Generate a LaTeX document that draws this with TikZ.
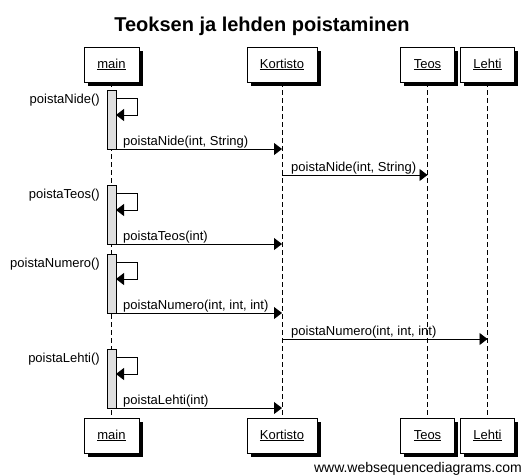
\documentclass[tikz,border=0pt]{standalone}
\usepackage{fontspec}
\setmainfont{Liberation Sans}
\usetikzlibrary{arrows.meta,shadows}
\begin{document}
\begin{tikzpicture}[x=1pt,y=-1pt,
  actor/.style={draw, fill=white, line width=0.8pt, minimum height=35pt, inner sep=0pt, text height=10pt, text depth=3pt, font=\fontsize{13}{15}\selectfont,
    drop shadow={shadow xshift=3.5pt, shadow yshift=-3.5pt, fill=black, opacity=1}},
  life/.style={draw, line width=0.8pt, dash pattern=on 5pt off 3pt},
  bar/.style={draw, fill=gray!25, line width=0.8pt},
  msg/.style={draw, line width=0.9pt, -{Triangle[length=8pt,width=12pt]}},
  lbl/.style={font=\fontsize{13}{15}\selectfont, inner sep=0pt},
  ul/.style={},
]
\useasboundingbox (0,0) rectangle (526,475);
\node[font=\bfseries\fontsize{20}{24}\selectfont, anchor=base] (title) at (262,31) {Teoksen ja lehden poistaminen};

% top actors
\node[actor, minimum width=55pt] (mainT) at (111.5,64.5) {\underline{main}};
\node[actor, minimum width=70pt] (korT) at (282,64.5) {\underline{Kortisto}};
\node[actor, minimum width=54pt] (teosT) at (427.5,64.5) {\underline{Teos}};
\node[actor, minimum width=54pt] (lehtiT) at (487.5,64.5) {\underline{Lehti}};
% bottom actors
\node[actor, minimum width=55pt] (mainB) at (111.5,435.5) {\underline{main}};
\node[actor, minimum width=70pt] (korB) at (282,435.5) {\underline{Kortisto}};
\node[actor, minimum width=54pt] (teosB) at (427.5,435.5) {\underline{Teos}};
\node[actor, minimum width=54pt] (lehtiB) at (487.5,435.5) {\underline{Lehti}};

% lifelines
\draw[life] (mainT.south) -- (mainB.north);
\draw[life] (korT.south) -- (korB.north);
\draw[life] (teosT.south) -- (teosB.north);
\draw[life] (lehtiT.south) -- (lehtiB.north);

% activation bars
\foreach \n/\t/\b in {1/90/149, 2/185/244, 3/254/313, 4/349/408}{
  \node[bar, minimum width=9pt, minimum height={\b-\t}, inner sep=0pt, anchor=north] (bar\n) at (111.5,\t) {};
}

% self calls
\foreach \n/\t/\txt in {1/90/poistaNide(), 2/185/poistaTeos(), 3/254/poistaNumero(), 4/349/poistaLehti()}{
  \coordinate (s\n a) at (116,\t+8);
  \coordinate (s\n b) at (116,\t+25);
  \draw[msg] (s\n a) -- ++(21,0) |- (s\n b);
  \node[lbl, anchor=east] (sl\n) at (100,\t+10) {\txt};
}

% messages main -> Kortisto
\foreach \n/\y/\txt in {1/149/{poistaNide(int, String)}, 2/244/{poistaTeos(int)}, 3/313/{poistaNumero(int, int, int)}, 4/408/{poistaLehti(int)}}{
  \coordinate (m\n a) at (116,\y);
  \coordinate (m\n b) at (282,\y);
  \draw[msg] (m\n a) -- (m\n b);
  \node[lbl, anchor=base west] (ml\n) at (123,\y-4) {\txt};
}

% Kortisto -> Teos / Lehti
\coordinate (k1a) at (282,175);
\coordinate (k1b) at (427.5,175);
\draw[msg] (k1a) -- (k1b);
\node[lbl, anchor=base west] (kl1) at (291,171) {poistaNide(int, String)};

\coordinate (k2a) at (282,339);
\coordinate (k2b) at (487.5,339);
\draw[msg] (k2a) -- (k2b);
\node[lbl, anchor=base west] (kl2) at (291,335) {poistaNumero(int, int, int)};

\node[font=\fontsize{14}{16}\selectfont, anchor=base east, inner sep=0pt] (wm) at (522,472) {www.websequencediagrams.com};
\end{tikzpicture}
\end{document}
